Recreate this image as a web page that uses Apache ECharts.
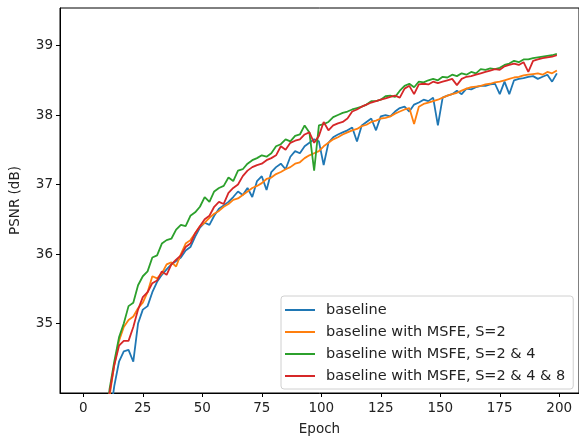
<!DOCTYPE html>
<html>
<head>
<meta charset="utf-8">
<script src="https://cdn.jsdelivr.net/npm/echarts@6/dist/echarts.min.js"></script>
<style>
  html, body { margin: 0; padding: 0; background: #fff; }
  #main { width: 579px; height: 441px; }
</style>
</head>
<body>
<div id="main"></div>
<script>
var epochs = [9, 11, 13, 15, 17, 19, 21, 23, 25, 27,
  29, 31, 33, 35, 37, 39, 41, 43, 45, 47,
  49, 51, 53, 55, 57, 59, 61, 63, 65, 67,
  69, 71, 73, 75, 77, 79, 81, 83, 85, 87,
  89, 91, 93, 95, 97, 99, 101, 103, 105, 107,
  109, 111, 113, 115, 117, 119, 121, 123, 125, 127,
  129, 131, 133, 135, 137, 139, 141, 143, 145, 147,
  149, 151, 153, 155, 157, 159, 161, 163, 165, 167,
  169, 171, 173, 175, 177, 179, 181, 183, 185, 187,
  189, 191, 193, 195, 197, 199];

var baseline = [33.0, 33.6, 34.1, 34.45, 34.6, 34.62, 34.45, 35.0, 35.2, 35.25,
  35.45, 35.6, 35.7, 35.78, 35.85, 35.9, 35.95, 36.05, 36.1, 36.25,
  36.38, 36.45, 36.42, 36.55, 36.65, 36.7, 36.75, 36.82, 36.9, 36.85,
  36.95, 36.82, 37.05, 37.12, 36.92, 37.18, 37.25, 37.3, 37.22, 37.4,
  37.48, 37.45, 37.55, 37.6, 37.65, 37.62, 37.28, 37.6, 37.68, 37.72,
  37.75, 37.78, 37.82, 37.62, 37.85, 37.9, 37.95, 37.78, 37.98, 38.0,
  37.98, 38.05, 38.1, 38.12, 38.05, 38.15, 38.18, 38.22, 38.2, 38.25,
  37.85, 38.25, 38.28, 38.3, 38.35, 38.3, 38.38, 38.37, 38.4, 38.42,
  38.42, 38.44, 38.45, 38.3, 38.48, 38.3, 38.5, 38.52, 38.53, 38.55,
  38.56, 38.52, 38.55, 38.58, 38.48, 38.6];

var msfe2 = [33.2, 33.95, 34.4, 34.75, 34.95, 35.05, 35.1, 35.22, 35.3, 35.45,
  35.68, 35.65, 35.72, 35.85, 35.88, 35.82, 36.0, 36.15, 36.2, 36.3,
  36.4, 36.45, 36.52, 36.58, 36.62, 36.68, 36.72, 36.78, 36.8, 36.85,
  36.9, 36.95, 36.98, 37.02, 37.08, 37.1, 37.15, 37.18, 37.22, 37.25,
  37.3, 37.32, 37.38, 37.42, 37.45, 37.48, 37.55, 37.6, 37.65, 37.68,
  37.72, 37.75, 37.78, 37.8, 37.84, 37.86, 37.9, 37.92, 37.95, 37.96,
  37.98, 38.02, 38.05, 38.08, 38.1, 37.87, 38.12, 38.16, 38.18, 38.2,
  38.22, 38.25, 38.28, 38.3, 38.32, 38.35, 38.38, 38.4, 38.41, 38.42,
  38.44, 38.45, 38.47, 38.48, 38.5, 38.52, 38.54, 38.55, 38.57, 38.58,
  38.59, 38.6, 38.58, 38.62, 38.6, 38.64];

var msfe24 = [33.4, 34.05, 34.45, 34.8, 35.0, 35.25, 35.3, 35.55, 35.68, 35.75,
  35.95, 35.98, 36.15, 36.2, 36.22, 36.35, 36.42, 36.4, 36.55, 36.6,
  36.68, 36.82, 36.75, 36.9, 36.95, 36.98, 37.1, 37.05, 37.2, 37.22,
  37.3, 37.35, 37.38, 37.42, 37.4, 37.45, 37.55, 37.58, 37.65, 37.62,
  37.7, 37.72, 37.85, 37.75, 37.2, 37.85, 37.87, 37.9, 37.97, 38.0,
  38.03, 38.05, 38.08, 38.1, 38.12, 38.15, 38.2, 38.2, 38.22, 38.27,
  38.28, 38.26, 38.35, 38.42, 38.45, 38.4, 38.48, 38.47, 38.5, 38.52,
  38.5, 38.55, 38.54, 38.58, 38.56, 38.6, 38.58, 38.62, 38.6, 38.66,
  38.65, 38.67, 38.66, 38.68, 38.72, 38.74, 38.78, 38.76, 38.8, 38.8,
  38.82, 38.83, 38.84, 38.85, 38.86, 38.88];

var msfe248 = [33.3, 34.0, 34.4, 34.68, 34.75, 34.75, 34.95, 35.2, 35.38, 35.45,
  35.58, 35.62, 35.75, 35.7, 35.85, 35.92, 35.98, 36.1, 36.15, 36.3,
  36.4, 36.5, 36.55, 36.68, 36.75, 36.72, 36.88, 36.95, 37.0, 37.12,
  37.2, 37.25, 37.28, 37.3, 37.35, 37.38, 37.42, 37.55, 37.5, 37.6,
  37.63, 37.65, 37.72, 37.75, 37.6, 37.7, 37.9, 37.78, 37.85, 37.88,
  37.9, 37.95, 38.05, 38.08, 38.12, 38.15, 38.18, 38.2, 38.22, 38.24,
  38.26, 38.28, 38.25, 38.38, 38.42, 38.3, 38.44, 38.45, 38.44, 38.48,
  38.46, 38.48, 38.5, 38.52, 38.43, 38.52, 38.55, 38.56, 38.58, 38.6,
  38.62, 38.64, 38.66, 38.65, 38.7, 38.72, 38.74, 38.72, 38.76, 38.62,
  38.78, 38.8, 38.82, 38.83, 38.84, 38.86];

var names = ['baseline', 'baseline with MSFE, S=2', 'baseline with MSFE, S=2 & 4', 'baseline with MSFE, S=2 & 4 & 8'];
var colors = ['#1f77b4', '#ff7f0e', '#2ca02c', '#d62728'];
var xTicks = [0, 25, 50, 75, 100, 125, 150, 175, 200];
var yTicks = [35, 36, 37, 38, 39];

function pairs(vals) {
  return epochs.map(function(e, i) { return [e, vals[i]]; });
}

var allVals = [baseline, msfe2, msfe24, msfe248];
var series = [];
for (var i = 0; i < allVals.length; i++) {
  series.push({
    name: names[i],
    type: 'line',
    data: pairs(allVals[i]),
    showSymbol: false,
    symbol: 'none',
    clip: true,
    lineStyle: { color: colors[i], width: 1.8 },
    itemStyle: { color: colors[i] },
    animation: false
  });
}

var font = 'DejaVu Sans';
var myChart = echarts.init(document.getElementById('main'));
var option = {
  animation: false,
  grid: {
    left: 58,
    right: 0,
    top: 8,
    bottom: 45,
    show: true,
    borderColor: '#000',
    borderWidth: 1,
    backgroundColor: 'transparent'
  },
  legend: {
    data: names,
    orient: 'vertical',
    left: 281,
    top: 296,
    icon: 'rect',
    itemWidth: 30,
    itemHeight: 2,
    itemGap: 6,
    padding: [6, 8, 5, 4],
    backgroundColor: 'rgba(255,255,255,0.8)',
    borderColor: '#d0d0d0',
    borderWidth: 1,
    borderRadius: 3,
    textStyle: { fontFamily: font, fontSize: 14.5, color: '#222', lineHeight: 16, padding: [0, 0, 0, 6] }
  },
  xAxis: {
    type: 'value',
    min: -9.8,
    max: 208.3,
    name: 'Epoch',
    nameLocation: 'middle',
    nameGap: 29,
    nameTextStyle: { fontFamily: font, fontSize: 13.5, color: '#222' },
    axisLine: { onZero: false, lineStyle: { color: '#000', width: 1 } },
    axisTick: { show: true, length: 4, lineStyle: { color: '#000' }, customValues: xTicks },
    axisLabel: { fontFamily: font, fontSize: 13.5, color: '#222', margin: 8, customValues: xTicks },
    splitLine: { show: false }
  },
  yAxis: {
    type: 'value',
    min: 34,
    max: 39.54,
    name: 'PSNR (dB)',
    nameLocation: 'middle',
    nameGap: 38,
    nameTextStyle: { fontFamily: font, fontSize: 13.5, color: '#222' },
    axisLine: { show: true, onZero: false, lineStyle: { color: '#000', width: 1 } },
    axisTick: { show: true, length: 4, lineStyle: { color: '#000' }, customValues: yTicks },
    axisLabel: { fontFamily: font, fontSize: 13.5, color: '#222', margin: 7, customValues: yTicks },
    splitLine: { show: false }
  },
  series: series
};
myChart.setOption(option);
</script>
</body>
</html>
